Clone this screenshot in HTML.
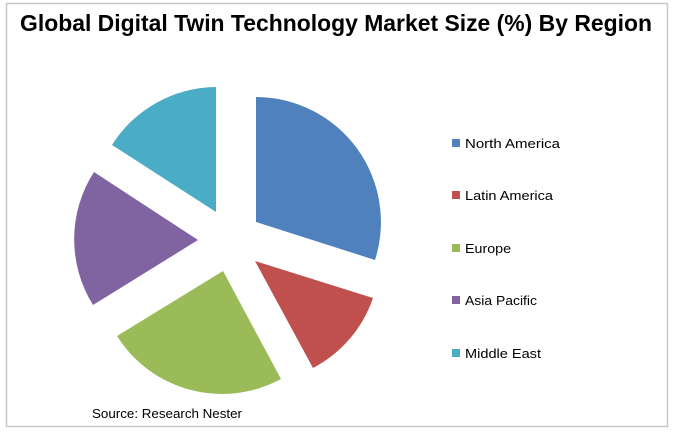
<!DOCTYPE html>
<html><head><meta charset="utf-8"><style>
html,body{margin:0;padding:0;background:#fff;}
svg{display:block;}
text{font-family:"Liberation Sans",sans-serif;fill:#000;}
</style></head><body>
<svg width="673" height="434" viewBox="0 0 673 434" xmlns="http://www.w3.org/2000/svg">
<rect x="6.5" y="3.5" width="661" height="423" fill="#fff" stroke="#c8c8c8" stroke-width="1.5"/>
<text x="20" y="31" font-size="23" font-weight="bold" textLength="632" lengthAdjust="spacingAndGlyphs">Global Digital Twin Technology Market Size (%) By Region</text>
<path d="M256,222 L256,97 A125,125 0 0 1 375,260 Z" fill="#4f81bd"/>
<path d="M255,261 L373,298 A124,124 0 0 1 313,368 Z" fill="#c0504d"/>
<path d="M223,271 L281,379 A124,124 0 0 1 117,336 Z" fill="#9bbb59"/>
<path d="M198,240 L93,305 A124,124 0 0 1 94,172 Z" fill="#8064a2"/>
<path d="M216,212 L112,145 A124,124 0 0 1 216,87 Z" fill="#4bacc6"/>
<g font-size="13">
<rect x="452" y="139" width="8" height="8" fill="#4f81bd"/><text x="465" y="148" textLength="95" lengthAdjust="spacingAndGlyphs">North America</text>
<rect x="452" y="191" width="8" height="8" fill="#c0504d"/><text x="465" y="200" textLength="88" lengthAdjust="spacingAndGlyphs">Latin America</text>
<rect x="452" y="244" width="8" height="8" fill="#9bbb59"/><text x="465" y="253" textLength="46" lengthAdjust="spacingAndGlyphs">Europe</text>
<rect x="452" y="296" width="8" height="8" fill="#8064a2"/><text x="465" y="305" textLength="72" lengthAdjust="spacingAndGlyphs">Asia Pacific</text>
<rect x="452" y="349" width="8" height="8" fill="#4bacc6"/><text x="465" y="358" textLength="76" lengthAdjust="spacingAndGlyphs">Middle East</text>
</g>
<text x="92" y="418" font-size="13" textLength="150" lengthAdjust="spacingAndGlyphs">Source: Research Nester</text>
</svg>
</body></html>
